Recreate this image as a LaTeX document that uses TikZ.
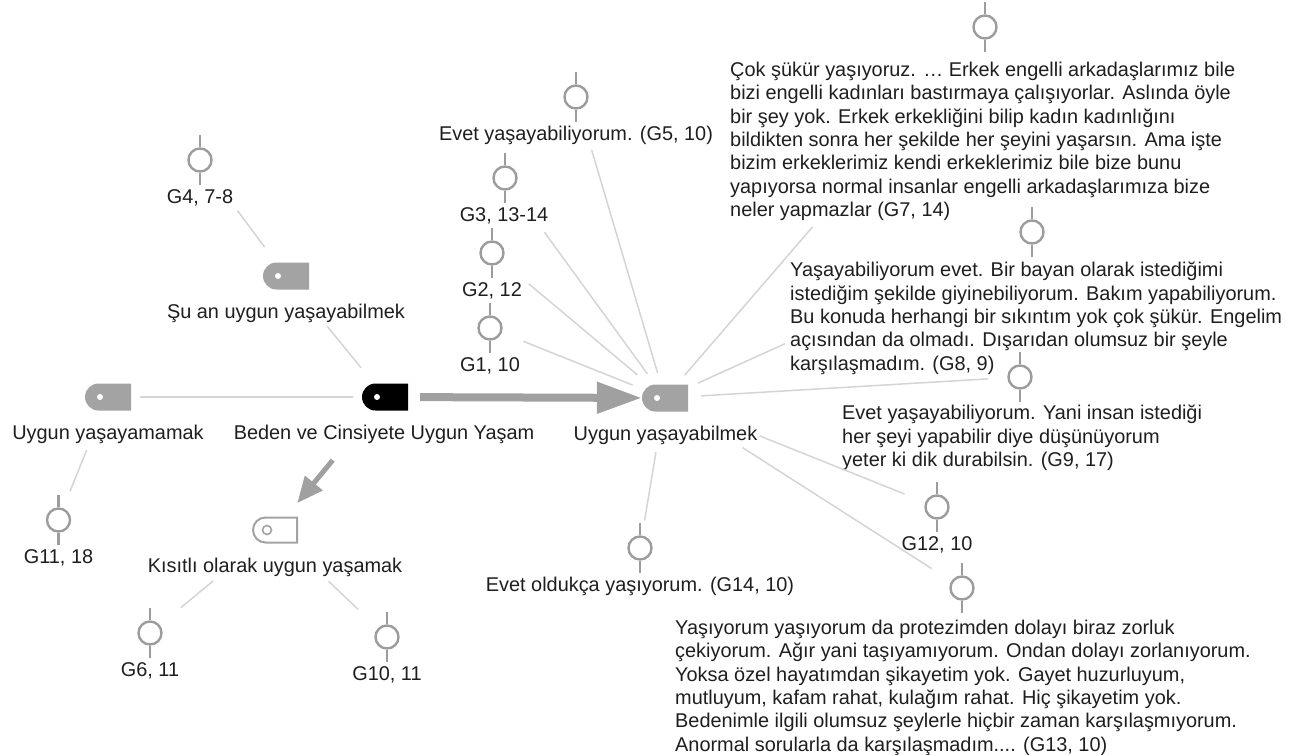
\documentclass[tikz,border=0pt]{standalone}
\usepackage{fontspec}
\setmainfont{Liberation Sans}
\usetikzlibrary{arrows.meta,shapes.misc}
\definecolor{tagg}{HTML}{A3A3A3}
\definecolor{memog}{HTML}{9C9C9C}
\definecolor{lineg}{HTML}{D4D4D4}
\definecolor{arrg}{HTML}{A0A0A0}
\definecolor{txt}{HTML}{1E1E1E}
\begin{document}
\begin{tikzpicture}[x=1pt,y=-1pt,
  every node/.style={text=txt},
  tagnode/.style={rounded rectangle, rounded rectangle right arc=none, minimum width=46pt, minimum height=27pt, inner sep=0pt, fill=tagg},
  memo/.style={circle, draw=memog, line width=2.4pt, minimum size=23pt, inner sep=0pt},
  stem/.style={draw=memog, line width=2.4pt},
  lbl/.style={font=\fontsize{19.9}{23.3}\selectfont, inner sep=0pt, text height=14.4pt, text depth=4.2pt},
  para/.style={font=\fontsize{19.9}{23.3}\selectfont, inner sep=0pt, align=left, anchor=north west},
  conn/.style={draw=lineg, line width=1.5pt},
  bigarrow/.style={draw=arrg, line width=8pt, -{Triangle[length=45pt,width=30pt]}},
  smallarrow/.style={draw=arrg, line width=5pt, -{Triangle[length=26pt,width=22pt]}},
]
\useasboundingbox (0,0) rectangle (1304,755);

% code tags
\node[tagnode] (ym) at (108,397) {};
\node[tagnode, fill=black] (bd) at (385,397) {};
\node[tagnode] (uy) at (665,398) {};
\node[tagnode] (su) at (286,276) {};
\node[tagnode, fill=white, draw=tagg, line width=2pt, minimum width=44pt, minimum height=25pt] (ki) at (275,530) {};
\foreach \n in {ym,bd,uy,su} {\fill[white] ([xshift=-8pt]\n.center) circle (3pt);}
\draw[tagg, line width=1.6pt] ([xshift=-8pt]ki.center) circle (4.5pt);

% tag labels
\node[lbl] (ymL) at (108,434.5) {Uygun yaşayamamak};
\node[lbl] (bdL) at (384,434.5) {Beden ve Cinsiyete Uygun Yaşam};
\node[lbl] (uyL) at (665.5,435.5) {Uygun yaşayabilmek};
\node[lbl] (suL) at (286,313.5) {Şu an uygun yaşayabilmek};
\node[lbl] (kiL) at (275,567.5) {Kısıtlı olarak uygun yaşamak};

% memos
\node[memo] (g4) at (200,160) {};
\node[lbl] (g4L) at (200,198.5) {G4, 7-8};
\node[memo] (g3) at (505,178) {};
\node[lbl] (g3L) at (504,216.5) {G3, 13-14};
\node[memo] (g2) at (492,253) {};
\node[lbl] (g2L) at (492,291.5) {G2, 12};
\node[memo] (g1) at (490,328) {};
\node[lbl] (g1L) at (490,366.5) {G1, 10};
\node[memo] (g5) at (576,97) {};
\node[lbl] (g5L) at (576,135.5) {Evet yaşayabiliyorum. (G5, 10)};
\node[memo] (g11) at (58.5,520) {};
\node[lbl] (g11L) at (58.5,558.5) {G11, 18};
\node[memo] (g6) at (150,633) {};
\node[lbl] (g6L) at (150,671.5) {G6, 11};
\node[memo] (g10) at (387,637) {};
\node[lbl] (g10L) at (387,675.5) {G10, 11};
\node[memo] (g12) at (937,507) {};
\node[lbl] (g12L) at (937,545.5) {G12, 10};
\node[memo] (g14) at (640,548) {};
\node[lbl] (g14L) at (640,586.5) {Evet oldukça yaşıyorum. (G14, 10)};

\node[memo] (g7) at (985,27) {};
\node[para] (g7L) at (730,62) {Çok şükür yaşıyoruz. … Erkek engelli arkadaşlarımız bile\\bizi engelli kadınları bastırmaya çalışıyorlar. Aslında öyle\\bir şey yok. Erkek erkekliğini bilip kadın kadınlığını\\bildikten sonra her şekilde her şeyini yaşarsın. Ama işte\\bizim erkeklerimiz kendi erkeklerimiz bile bize bunu\\yapıyorsa normal insanlar engelli arkadaşlarımıza bize\\neler yapmazlar (G7, 14)};
\node[memo] (g8) at (1032,232) {};
\node[para] (g8L) at (790,262) {Yaşayabiliyorum evet. Bir bayan olarak istediğimi\\istediğim şekilde giyinebiliyorum. Bakım yapabiliyorum.\\Bu konuda herhangi bir sıkıntım yok çok şükür. Engelim\\açısından da olmadı. Dışarıdan olumsuz bir şeyle\\karşılaşmadım. (G8, 9)};
\node[memo] (g9) at (1020,377) {};
\node[para] (g9L) at (842,405) {Evet yaşayabiliyorum. Yani insan istediği\\her şeyi yapabilir diye düşünüyorum\\yeter ki dik durabilsin. (G9, 17)};
\node[memo] (g13) at (962,588) {};
\node[para] (g13L) at (675,620) {Yaşıyorum yaşıyorum da protezimden dolayı biraz zorluk\\çekiyorum. Ağır yani taşıyamıyorum. Ondan dolayı zorlanıyorum.\\Yoksa özel hayatımdan şikayetim yok. Gayet huzurluyum,\\mutluyum, kafam rahat, kulağım rahat. Hiç şikayetim yok.\\Bedenimle ilgili olumsuz şeylerle hiçbir zaman karşılaşmıyorum.\\Anormal sorularla da karşılaşmadım.... (G13, 10)};

\foreach \m in {g1,g2,g3,g4,g5,g6,g7,g8,g9,g10,g11,g12,g13,g14} {
  \draw[stem] (\m.north) -- ++(0,-12);
  \draw[stem] (\m.south) -- ++(0,12);
}

% connectors
\draw[conn, shorten <=63pt, shorten >=36pt] (g4.center) -- (su.center);
\draw[conn, shorten <=65pt, shorten >=38pt] (su.center) -- (bd.center);
\draw[conn, shorten <=32pt, shorten >=32pt] (ym.center) -- (bd.center);
\draw[conn, shorten <=57pt, shorten >=31pt] (ym.center) -- (g11.center);
\draw[bigarrow, shorten <=12pt] (bd) -- (uy);
\draw[smallarrow, shorten <=82pt, shorten >=35pt] (bd.center) -- (ki.center);
\draw[conn, shorten <=80pt, shorten >=40pt] (ki.center) -- (g6.center);
\draw[conn, shorten <=74pt, shorten >=40pt] (ki.center) -- (g10.center);
\draw[conn, shorten <=36pt, shorten >=35pt] (g1.center) -- (uy.center);
\draw[conn, shorten <=48pt, shorten >=36pt] (g2.center) -- (uy.center);
\draw[conn, shorten <=67pt, shorten >=30pt] (g3.center) -- (uy.center);
\draw[conn, shorten <=55pt, shorten >=26pt] (g5.center) -- (uy.center);
\draw[conn, shorten <=264pt, shorten >=30pt] (g7.center) -- (uy.center);
\draw[conn, shorten <=271pt, shorten >=36pt] (g8.center) -- (uy.center);
\draw[conn, shorten <=32pt, shorten >=36pt] (g9.center) -- (uy.center);
\draw[conn, shorten <=35pt, shorten >=102pt] (g12.center) -- (uy.center);
\draw[conn, shorten <=36pt, shorten >=92pt] (g13.center) -- (uy.center);
\draw[conn, shorten <=28pt, shorten >=55pt] (g14.center) -- (uy.center);
\end{tikzpicture}
\end{document}
